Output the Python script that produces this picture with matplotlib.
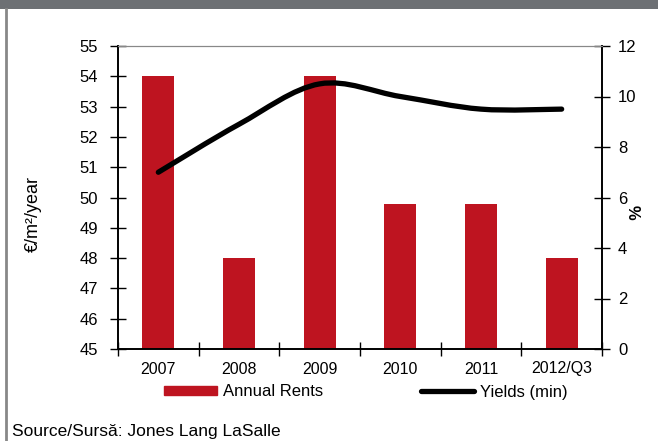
import matplotlib.pyplot as plt
from matplotlib.path import Path
from matplotlib.patches import PathPatch, Rectangle
from matplotlib.lines import Line2D

plt.rcParams['font.family'] = ['Liberation Sans', 'DejaVu Sans']

years = ["2007", "2008", "2009", "2010", "2011", "2012/Q3"]
rents = [54, 48, 54, 49.8, 49.8, 48]        # EUR/m2/year
yields_min = [7.0, 8.9, 10.5, 10.0, 9.5, 9.5]  # %

RED = "#be1420"
GREY = "#6d7074"


def smooth_path(xs, ys):
    # Catmull-Rom style bezier through the points (like a smoothed office line)
    verts = [(xs[0], ys[0])]
    codes = [Path.MOVETO]
    n = len(xs)
    for i in range(n - 1):
        x0, y0 = (xs[i - 1], ys[i - 1]) if i > 0 else (xs[i], ys[i])
        x1, y1 = xs[i], ys[i]
        x2, y2 = xs[i + 1], ys[i + 1]
        x3, y3 = (xs[i + 2], ys[i + 2]) if i + 2 < n else (x2, y2)
        c1 = (x1 + (x2 - x0) / 6, y1 + (y2 - y0) / 6)
        c2 = (x2 - (x3 - x1) / 6, y2 - (y3 - y1) / 6)
        verts += [c1, c2, (x2, y2)]
        codes += [Path.CURVE4] * 3
    return Path(verts, codes)


fig = plt.figure(figsize=(6.58, 4.41), dpi=100)
ax = fig.add_axes([118 / 658, 1 - 349 / 441, 484 / 658, 303 / 441])

x = list(range(len(years)))
ax.bar(x, rents, width=0.4, color=RED, zorder=2)
ax.set_ylim(45, 55)
ax.set_yticks(range(45, 56))
ax.set_xlim(-0.5, len(years) - 0.5)
ax.set_xticks([i - 0.5 for i in range(len(years) + 1)])
ax.set_xticklabels([])
ax.set_xticks(x, minor=True)
ax.set_xticklabels(years, minor=True, fontsize=11.5)
ax.tick_params(axis='x', which='minor', length=0, pad=9)
ax.tick_params(axis='x', which='major', direction='inout', length=10, width=1)
ax.tick_params(axis='y', direction='inout', length=11, width=1, labelsize=12, pad=9)
ax.set_ylabel("€/m²/year", fontsize=13)
ax.yaxis.label.set(ha='center', va='center', rotation_mode='default')
ax.yaxis.set_label_coords(-0.174, 0.445)

ax2 = ax.twinx()
ax2.set_ylim(0, 12)
ax2.set_yticks(range(0, 13, 2))
ax2.tick_params(axis='y', direction='inout', length=11, width=1, labelsize=12, pad=6)
ax2.set_ylabel("%", fontsize=12, fontweight='bold', rotation=-90)
ax2.yaxis.label.set(ha='center', va='center', rotation_mode='default')
ax2.yaxis.set_label_coords(1.062, 0.452)
ax2.add_patch(PathPatch(smooth_path(x, yields_min), facecolor='none',
                        edgecolor='black', lw=3.8, capstyle='round', zorder=3))

for a in (ax, ax2):
    a.spines['top'].set_color('#888888')
    a.spines['left'].set_linewidth(1.2)
    a.spines['right'].set_linewidth(1.2)
    a.spines['bottom'].set_linewidth(1.2)

handles = [Rectangle((0, 0), 1, 1, color=RED),
           Line2D([0], [0], color='black', lw=3.8, solid_capstyle='round')]
fig.legend(handles, ["Annual Rents", "Yields (min)"], loc='center',
           bbox_to_anchor=(366 / 658, 1 - 392 / 441), ncol=2, frameon=False,
           fontsize=12, handlelength=3.15, handleheight=0.42,
           handletextpad=0.38, columnspacing=5.9)

# header strip and left frame line
fig.add_artist(Rectangle((0, 1 - 9 / 441), 1, 9 / 441, transform=fig.transFigure,
                         color=GREY, lw=0))
fig.add_artist(Line2D([6 / 658, 6 / 658], [0, 1 - 9 / 441], transform=fig.transFigure,
                      color='#888888', lw=2))

fig.text(12 / 658, 1 - 436 / 441, "Source/Sursă: Jones Lang LaSalle",
         fontsize=12.5, va='baseline', ha='left')

fig.savefig("out.png", dpi=100)
